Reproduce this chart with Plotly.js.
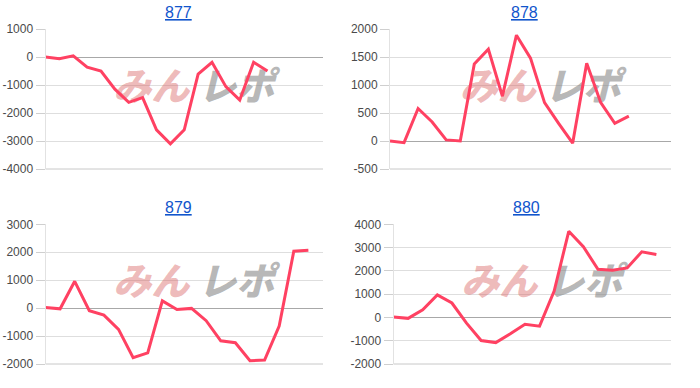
<!DOCTYPE html>
<html>
<head>
<meta charset="utf-8">
<script src="https://cdn.plot.ly/plotly-3.0.1.min.js"></script>
<style>html,body{margin:0;padding:0;background:#fff;}#chart{width:700px;height:388px;}</style>
</head>
<body>
<div id="chart"></div>
<script>
// Chart titles (machine numbers)
const titles = ["877", "878", "879", "880"];

// Series values (cumulative difference per game step)
const s877 = [0, -60, 40, -360, -500, -1150, -1620, -1450, -2600, -3100, -2600, -610, -190, -1060, -1540, -190, -500];
const s878 = [0, -30, 580, 340, 20, 0, 1375, 1640, 800, 1890, 1480, 685, 315, -40, 1390, 685, 315, 445];
const s879 = [20, -25, 960, -95, -250, -760, -1775, -1600, 260, -50, -10, -450, -1170, -1240, -1880, -1860, -640, 2035, 2070];
const s880 = [15, -40, 330, 965, 620, -245, -990, -1080, -705, -290, -375, 1135, 3700, 3035, 2070, 2030, 2125, 2820, 2705];

// Y axis ticks per chart
const ticks877 = [1000, 0, -1000, -2000, -3000, -4000];
const ticks878 = [2000, 1500, 1000, 500, 0, -500];
const ticks879 = [3000, 2000, 1000, 0, -1000, -2000];
const ticks880 = [4000, 3000, 2000, 1000, 0, -1000, -2000];

const allSeries = [s877, s878, s879, s880];
const allTicks = [ticks877, ticks878, ticks879, ticks880];
const xSlots = [20, 20, 19, 19];

const W = 700, H = 388;
// plot boxes in pixels [left, right, top, bottom]
const boxes = [
  [45.5, 323, 29, 169],
  [390, 671, 29, 169],
  [45.5, 323, 224.3, 364],
  [393.5, 671, 224.3, 364]
];

const lineColor = '#ff4162';
const traces = [];
const layout = {
  width: W, height: H,
  margin: {l: 0, r: 0, t: 0, b: 0},
  paper_bgcolor: '#fff', plot_bgcolor: '#fff',
  showlegend: false,
  font: {family: 'Arial, "Liberation Sans", sans-serif', size: 11.5, color: '#444'},
  annotations: [],
  shapes: []
};

allSeries.forEach((s, i) => {
  const n = i + 1;
  const xa = n === 1 ? 'x' : 'x' + n;
  const ya = n === 1 ? 'y' : 'y' + n;
  const b = boxes[i];
  const t = allTicks[i];
  const ymin = Math.min(...t), ymax = Math.max(...t);
  const pw = b[1] - b[0], ph = b[3] - b[2];
  // watermark (decorative logo text, drawn under the line)
  const cxFrac = 0.54, cyFrac = 0.44;
  const toX = px => (px / pw) * xSlots[i];
  const yW = ymax - cyFrac * (ymax - ymin);
  traces.push({
    x: [toX(cxFrac * pw - 44), toX(cxFrac * pw + 41)], y: [yW, yW],
    xaxis: xa, yaxis: ya, type: 'scatter', mode: 'text',
    text: ['<i>みん</i>', '<i>レポ</i>'],
    textposition: 'middle center',
    textfont: {size: 38, weight: 900, family: '"Noto Sans CJK JP", sans-serif',
      color: ['rgba(215,90,90,0.42)', 'rgba(130,130,130,0.58)']},
    hoverinfo: 'skip', cliponaxis: false
  });
  traces.push({
    x: s.map((_, k) => k), y: s,
    xaxis: xa, yaxis: ya,
    type: 'scatter', mode: 'lines',
    line: {color: lineColor, width: 3},
    hoverinfo: 'skip'
  });
  const xKey = n === 1 ? 'xaxis' : 'xaxis' + n;
  const yKey = n === 1 ? 'yaxis' : 'yaxis' + n;
  layout[xKey] = {
    domain: [b[0] / W, b[1] / W],
    range: [0, xSlots[i]],
    anchor: ya,
    showgrid: false, zeroline: false, showline: false, showticklabels: false, ticks: '',
    fixedrange: true
  };
  layout[yKey] = {
    domain: [1 - b[3] / H, 1 - b[2] / H],
    range: [ymin, ymax],
    anchor: xa,
    tickmode: 'array', tickvals: t, ticktext: t.map(String),
    showgrid: true, gridcolor: '#dedede', gridwidth: 1,
    zeroline: true, zerolinecolor: '#a8a8a8', zerolinewidth: 1,
    showline: true, linecolor: '#e2e2e2', linewidth: 1,
    ticks: 'outside', ticklen: 9, tickcolor: '#cfcfcf',
    tickfont: {size: 12, color: '#4a4a4a'},
    fixedrange: true
  };
  // bottom baseline
  layout.shapes.push({
    type: 'line', xref: 'paper', yref: 'paper',
    x0: b[0] / W, x1: b[1] / W, y0: 1 - b[3] / H, y1: 1 - b[3] / H,
    line: {color: '#c8c8c8', width: 1}, layer: 'below'
  });
  // title
  layout.annotations.push({
    text: titles[i], xref: 'paper', yref: 'paper',
    x: ((b[0] + b[1]) / 2 - 6) / W, y: 1 - (b[2] - 17) / H,
    xanchor: 'center', yanchor: 'middle', showarrow: false,
    font: {size: 16, color: '#1155cc', family: 'Arial, "Liberation Sans", sans-serif', lineposition: 'under'}
  });
});

Plotly.newPlot('chart', traces, layout, {staticPlot: true, displayModeBar: false});
</script>
</body>
</html>
